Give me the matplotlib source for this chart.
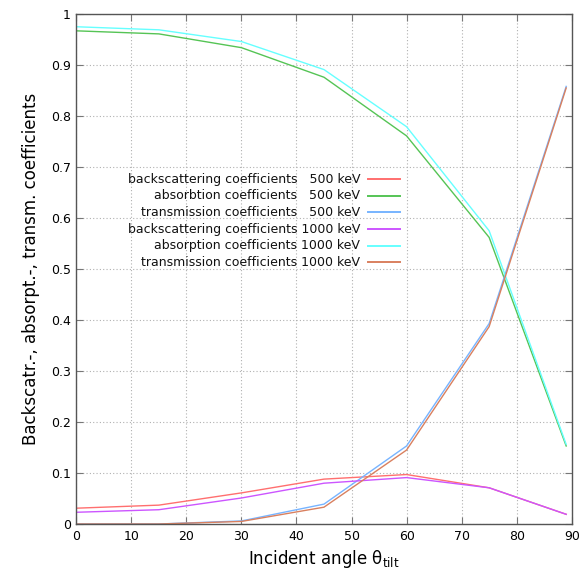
import matplotlib
matplotlib.use("Agg")
import matplotlib.pyplot as plt
from matplotlib.lines import Line2D

angles = [0, 15, 30, 45, 60, 75, 89]
back_500 = [0.031, 0.037, 0.061, 0.088, 0.097, 0.071, 0.019]
abs_500 = [0.967, 0.961, 0.934, 0.876, 0.761, 0.562, 0.153]
trans_500 = [0.0, 0.0, 0.006, 0.039, 0.153, 0.393, 0.858]
back_1000 = [0.023, 0.028, 0.051, 0.080, 0.091, 0.071, 0.019]
abs_1000 = [0.975, 0.969, 0.946, 0.891, 0.779, 0.575, 0.156]
trans_1000 = [0.0, 0.0, 0.005, 0.033, 0.145, 0.387, 0.855]

labels = [
    "backscattering coefficients   500 keV",
    "absorbtion coefficients   500 keV",
    "transmission coefficients   500 keV",
    "backscattering coefficients 1000 keV",
    "absorption coefficients 1000 keV",
    "transmission coefficients 1000 keV",
]
colors = ["#ff6f6f", "#55c455", "#77b4ff", "#cc55ff", "#66ffff", "#d9805f"]
series = [back_500, abs_500, trans_500, back_1000, abs_1000, trans_1000]

xticks = list(range(0, 91, 10))
yticks = [0, 0.1, 0.2, 0.3, 0.4, 0.5, 0.6, 0.7, 0.8, 0.9, 1]
yticklabels = ["0", "0.1", "0.2", "0.3", "0.4", "0.5", "0.6", "0.7", "0.8", "0.9", "1"]

fig = plt.figure(figsize=(5.83, 5.75), dpi=100)
ax = fig.add_axes([76.3 / 583, 1 - 524 / 575, (571.7 - 76.3) / 583, (524 - 14) / 575])

for vals, col in zip(series, colors):
    ax.plot(angles, vals, color=col, lw=1.0)

ax.set_xlim(0, 90)
ax.set_ylim(0, 1)
ax.set_xticks(xticks)
ax.set_yticks(yticks)
ax.set_yticklabels(yticklabels)
ax.tick_params(direction="in", length=5, width=0.8, color="#777777",
               labelsize=9, top=True, right=True, pad=4)
ax.grid(True, linestyle=(0, (1, 2)), color="#b0b0b0", lw=0.8)
for sp in ax.spines.values():
    sp.set_color("#555555")
    sp.set_linewidth(1.0)

ax.set_xlabel(r"Incident angle $\mathregular{\theta_{tilt}}$", fontsize=12, labelpad=4)
ax.set_ylabel("Backscatr.-, absorpt.-, transm. coefficients", fontsize=12, labelpad=8)

# gnuplot-style key: right-aligned text followed by a line sample
text_x = 0.5727
sample_x0, sample_x1 = 0.5888, 0.6534
row0 = 0.6759
row_step = 0.03255
for i, (lab, col) in enumerate(zip(labels, colors)):
    yy = row0 - i * row_step
    ax.text(text_x, yy, lab, transform=ax.transAxes, ha="right", va="center",
            fontsize=9, color="#111111")
    ax.add_line(Line2D([sample_x0, sample_x1], [yy, yy], transform=ax.transAxes,
                       color=col, lw=1.4))

fig.savefig("out.png", dpi=100)
